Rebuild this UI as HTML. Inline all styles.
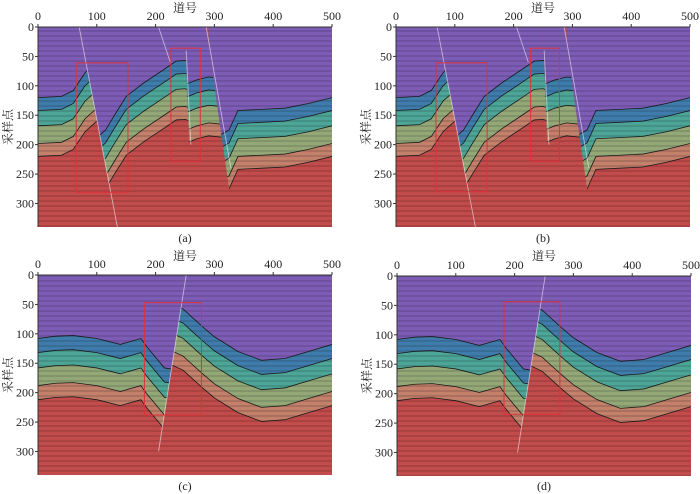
<!DOCTYPE html>
<html><head><meta charset="utf-8"><style>
html,body{margin:0;padding:0;background:#fff;width:700px;height:494px;overflow:hidden}
svg{display:block}
text{font-family:"Liberation Serif","Noto Serif CJK SC",serif;fill:#222}
</style></head><body>
<svg id="fig" width="700" height="494" viewBox="0 0 700 494" xmlns="http://www.w3.org/2000/svg">
<defs>
<pattern id="stripes" width="8" height="5" patternUnits="userSpaceOnUse">
<rect width="8" height="2" fill="#000" opacity="0.12"/>
</pattern>
</defs>
</svg>
<script>
// ---- data (trace number, sample index) ----
const xTicks=[0,100,200,300,400,500];
const yTicks=[0,50,100,150,200,250,300];
const layerOffsets=[0,22,48,78,100];
const layerOffsetsCD=[0,24,50,80,104];
const layerColors=['#3f7cab','#4da597','#94a877','#c3806a'];
// panel a/b segments
const abS1t=[0,40,60,80,100,140];       const abS1h=[120,118,108,78,60,50];
const abS2t=[60,100,115,130,150,180,210,235,250,275]; const abS2h=[205,188,175,150,118,95,75,58,57,65];
const abS3t=[240,258,270,290,320,345];  const abS3h=[100,95,90,85,88,92];
const abS4t=[290,325,340,380,420,460,500]; const abS4h=[195,175,142,140,138,130,120];
const abFault1=[[70,0],[135,340]];
const abFault2=[[250,0],[262,340]];
const abFault3=[[285,0],[335,340]];
// panel c/d segments
const cdLt=[0,30,60,100,140,175,185,200,215,260]; const cdLh=[108,104,103,108,118,108,122,140,158,165];
const cdRt=[190,230,247,260,280,300,340,380,420,460,500]; const cdRh=[45,50,58,70,88,105,130,145,142,130,118];
const cdFault=[[252,0],[205,300]];
const boxA=[[65,61,153,281],[226,36,276,228]];
const boxB=[[68,61,155,280],[229,36,278,228]];
const boxC=[[181,47,278,238]];
const boxD=[[182,44,277,235]];
const panels=[
 {id:'a',x:38,y:27,cap:'(a)',capY:240,titleY:7,boxes:boxA,type:'ab'},
 {id:'b',x:396,y:27,cap:'(b)',capY:240,titleY:7,boxes:boxB,type:'ab'},
 {id:'c',x:38,y:275,cap:'(c)',capY:488,titleY:255,boxes:boxC,type:'cd'},
 {id:'d',x:397,y:276,cap:'(d)',capY:488,titleY:255,boxes:boxD,type:'cd'}
];
const W=294,H=200,NS=340,NT=500;
const NS_SVG='http://www.w3.org/2000/svg';
const svg=document.getElementById('fig');
function mk(tag,attrs,parent){const e=document.createElementNS(NS_SVG,tag);for(const k in attrs)e.setAttribute(k,attrs[k]);(parent||svg).appendChild(e);return e;}
let clipId=0;
panels.forEach(p=>{
  const sx=t=>p.x+t/NT*W, sy=s=>p.y+s/NS*H;
  const g=mk('g',{});
  
  
  const cid='pc'+p.id;
  const cp=mk('clipPath',{id:cid},g);mk('rect',{x:p.x,y:p.y,width:W,height:H},cp);
  const plot=mk('g',{'clip-path':'url(#'+cid+')'},g);
  mk('rect',{x:p.x,y:p.y,width:W,height:H,fill:'#c24b4b'},plot);
  function faultX(f,s){const[a,b]=f;return a[0]+(b[0]-a[0])*(s-a[1])/(b[1]-a[1]);}
  function region(left,right){
    const pts=[];
    const top=0,bot=NS;
    pts.push([left?faultX(left,top):-10,top-5],[right?faultX(right,top):NT+10,top-5],
             [right?faultX(right,bot):NT+10,bot+5],[left?faultX(left,bot):-10,bot+5]);
    const id='rg'+(clipId++);
    const c=mk('clipPath',{id:id},plot);
    mk('polygon',{points:pts.map(q=>sx(q[0])+','+sy(q[1])).join(' ')},c);
    return id;
  }
  function seg(ts,hs,offs,left,right){
    const rid=region(left,right);
    const sg=mk('g',{'clip-path':'url(#'+rid+')'},plot);
    
    
    const line=o=>ts.map((t,i)=>[sx(t),sy(hs[i]+o)]);
    let top=line(offs[0]);
    let poly=[[sx(ts[0]),p.y-5],...top,[sx(ts[ts.length-1]),p.y-5]];
    const pu=mk('polygon',{points:poly.map(q=>q.join(',')).join(' '),fill:'#7d5cb6'},sg);
    
    
    for(let k=0;k<4;k++){
      const a=line(offs[k]),b=line(offs[k+1]).reverse();
      const lp=mk('polygon',{points:[...a,...b].map(q=>q.join(',')).join(' '),fill:layerColors[k]},sg);
      
      
    }
    for(let k=0;k<5;k++){
      const hl=mk('polyline',{points:line(offs[k]).map(q=>q.join(',')).join(' '),fill:'none',stroke:'#1a1a1a','stroke-width':0.8},sg);
      
      
    }
  }
  const faults=[];
  if(p.type==='ab'){
    seg(abS1t,abS1h,layerOffsets,null,abFault1);
    seg(abS2t,abS2h,layerOffsets,abFault1,abFault2);
    seg(abS3t,abS3h,layerOffsets,abFault2,abFault3);
    seg(abS4t,abS4h,layerOffsets,abFault3,null);
    faults.push(abFault1,[[252,40],[260,200]],[[286,0],[328,240]],[[205,0],[225,60]]);
  } else {
    seg(cdLt,cdLh,layerOffsetsCD,null,cdFault);
    seg(cdRt,cdRh,layerOffsetsCD,cdFault,null);
    faults.push(cdFault);
  }
  mk('rect',{x:p.x,y:p.y,width:W,height:H,fill:'url(#stripes)'},plot);
  faults.forEach(f=>{
    const fl=mk('line',{x1:sx(f[0][0]),y1:sy(f[0][1]),x2:sx(f[1][0]),y2:sy(f[1][1]),stroke:'#f2eef6','stroke-width':0.9,opacity:0.6},plot);
    
    
  });
  p.boxes.forEach(b=>{
    const r=mk('rect',{x:sx(b[0]),y:sy(b[1]),width:sx(b[2])-sx(b[0]),height:sy(b[3])-sy(b[1]),fill:'none',stroke:'#e0303a','stroke-width':1},g);
    
    
  });
  const ax=mk('line',{x1:p.x,y1:p.y,x2:p.x+W,y2:p.y,stroke:'#333','stroke-width':1},g);
  
  
  const ay=mk('line',{x1:p.x,y1:p.y,x2:p.x,y2:p.y+H,stroke:'#333','stroke-width':1},g);
  
  
  xTicks.forEach(t=>{
    mk('line',{x1:sx(t),y1:p.y,x2:sx(t),y2:p.y-3,stroke:'#333'},g);
    const tx=mk('text',{x:sx(t),y:p.y-7,'text-anchor':'middle','font-size':12},g);
    tx.textContent=t;
    
    
  });
  yTicks.forEach(s=>{
    mk('line',{x1:p.x,y1:sy(s),x2:p.x-3,y2:sy(s),stroke:'#333'},g);
    const ty=mk('text',{x:p.x-4,y:sy(s)+4,'text-anchor':'end','font-size':12},g);
    ty.textContent=s;
    
    
  });
  const xt=mk('text',{x:p.x+W/2,y:p.titleY+5,'text-anchor':'middle','font-size':12},g);
  xt.textContent='道号';
  
  
  const yt=mk('text',{x:0,y:0,'text-anchor':'middle','font-size':12,transform:'translate('+(p.x-26)+','+(p.y+H/2)+') rotate(-90)'},g);
  yt.textContent='采样点';
  
  
  const cap=mk('text',{x:p.x+W/2,y:p.capY+2,'text-anchor':'middle','font-size':12},g);
  cap.textContent=p.cap;
  
  
});
</script>
</body></html>
